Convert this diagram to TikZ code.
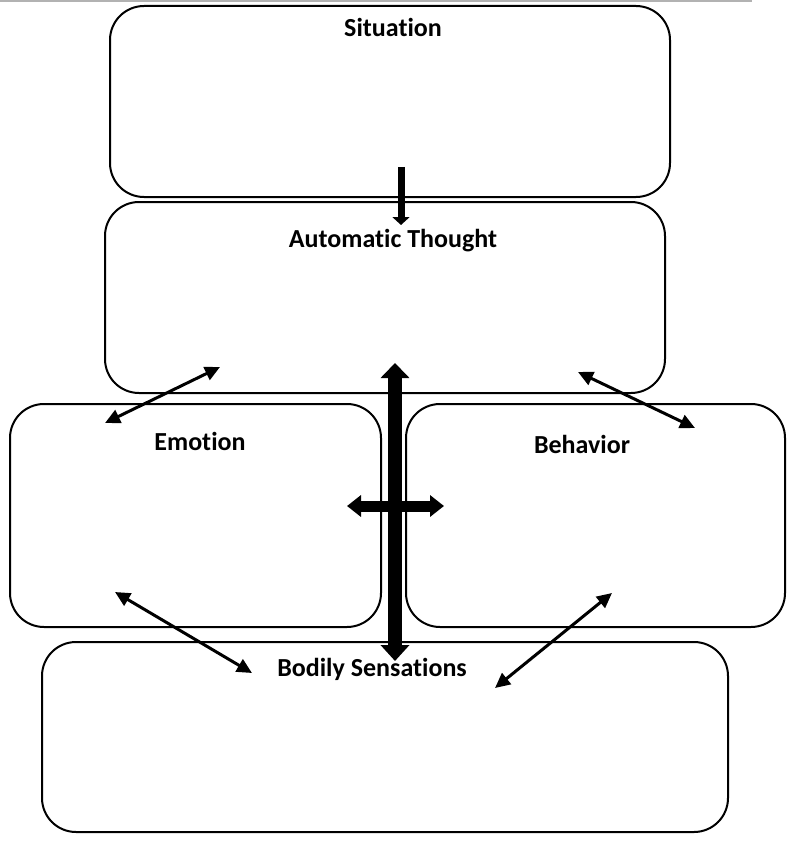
\documentclass[tikz,border=0pt]{standalone}
\usepackage{fontspec}
\setmainfont{Carlito}[Ligatures=NoCommon]
\usetikzlibrary{arrows.meta}
\begin{document}
\begin{tikzpicture}[x=1pt,y=-1pt,
  box/.style={draw, line width=2pt, rounded corners=34pt, inner sep=0pt},
  lbl/.style={font=\bfseries\fontsize{26}{30}\selectfont, inner sep=0pt},
  dbl/.style={line width=3pt, {Triangle[length=15pt,width=14pt]}-{Triangle[length=15pt,width=14pt]}},
]
\useasboundingbox (0,0) rectangle (787,845);
\coordinate (gl) at (0,1);
\coordinate (gr) at (752,1);
\draw[gray!60, line width=2pt] (gl) -- (gr);

\node (sit)  [box, minimum width=560pt, minimum height=191pt] at (390,101.5) {};
\node (auto) [box, minimum width=560pt, minimum height=191pt] at (385,297.5) {};
\node (emo)  [box, minimum width=371pt, minimum height=223pt] at (195.5,515.5) {};
\node (beh)  [box, minimum width=379pt, minimum height=223pt] at (595.5,515.5) {};
\node (body) [box, minimum width=686pt, minimum height=190pt] at (385,737) {};

\node (tsit)  [lbl] at (393,27) {Situation};
\node (tauto) [lbl] at (393,241) {Automatic Thought};
\node (temo)  [lbl] at (200,441) {Emotion};
\node (tbeh)  [lbl] at (582,444) {Behavior};
\node (tbody) [lbl] at (372,669) {Bodily Sensations};

% Situation -> Automatic Thought
\coordinate (s1) at (401,167);
\coordinate (s2) at (401,225);
\draw[line width=7pt, -{Triangle[length=8pt,width=17pt]}] (s1) -- (s2);

% big vertical double arrow
\coordinate (v1) at (395,363);
\coordinate (v2) at (395,661);
\draw[line width=14pt, {Triangle[length=15pt,width=28pt]}-{Triangle[length=16pt,width=28pt]}] (v1) -- (v2);

% horizontal double arrow
\coordinate (h1) at (347,506);
\coordinate (h2) at (444,506);
\draw[line width=11pt, {Triangle[length=14pt,width=21pt]}-{Triangle[length=14pt,width=21pt]}] (h1) -- (h2);

% diagonal arrows
\coordinate (a1) at (220,367);
\coordinate (a2) at (105,423);
\draw[dbl] (a1) -- (a2);
\coordinate (b1) at (578,372);
\coordinate (b2) at (695,428);
\draw[dbl] (b1) -- (b2);
\coordinate (c1) at (115,592);
\coordinate (c2) at (252,673);
\draw[dbl] (c1) -- (c2);
\coordinate (d1) at (612,593);
\coordinate (d2) at (495,688);
\draw[dbl] (d1) -- (d2);
\end{tikzpicture}
\end{document}
